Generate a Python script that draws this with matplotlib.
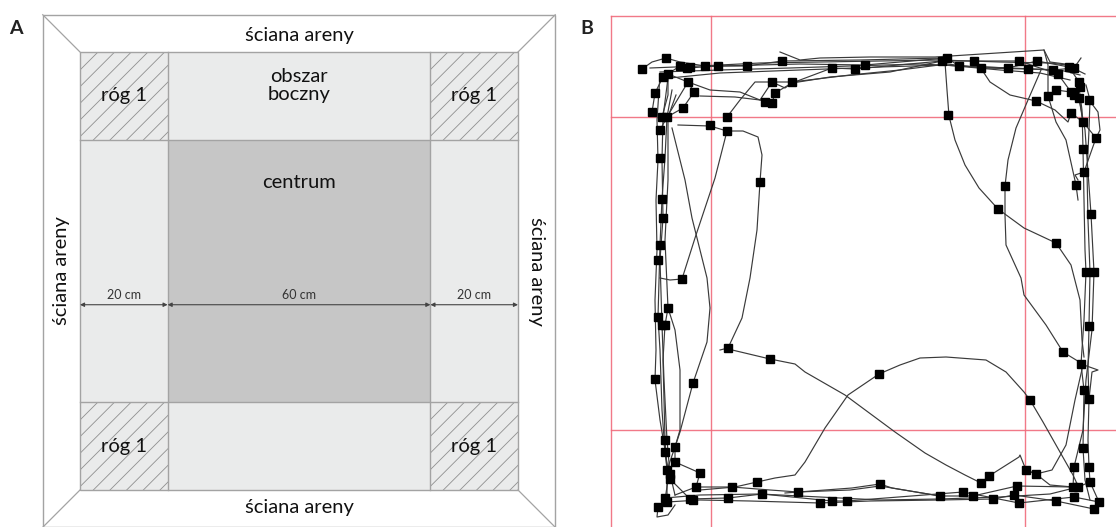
import matplotlib
matplotlib.use("Agg")
import matplotlib.pyplot as plt
from matplotlib.patches import Rectangle
import numpy as np

plt.rcParams['font.family'] = ['Lato', 'DejaVu Sans']
plt.rcParams['hatch.linewidth'] = 0.6

# ---------------- Panel A data (cm) ----------------
zone_edges = [0, 20, 80, 100]          # 20 cm | 60 cm | 20 cm
wall = 8.5
zone_widths = ["20 cm", "60 cm", "20 cm"]
wall_label = "ściana areny"
center_label = "centrum"
side_label = "obszar\nboczny"
corner_label = "róg 1"

# ---------------- Panel B data (camera pixels) ----------------
grid_x = [611, 711, 1025, 1125]
grid_y = [16, 117, 430, 531]

track_top_1 = [(650,68),(700,66),(760,63),(820,62),(880,61),(940,60),(1000,62),(1050,63),(1075,66)]
track_top_2 = [(660,72),(720,70),(790,68),(850,66),(920,64),(960,66),(1010,68),(1060,70),(1080,75)]
track_top_3 = [(670,78),(720,73),(800,70),(880,67),(945,65),(1000,70),(1040,73),(1070,80)]
track_top_4 = [(642,69),(652,62),(666,58),(680,62),(705,66),(747,66),(782,61),(860,60),(942,58),(948,59)]
track_top_5 = [(652,112),(655,93),(663,77),(680,66),(687,68),(718,66),(800,64),(865,65),(947,58),(959,66),
               (1008,68),(1037,61),(1069,67),(1079,82)]
track_top_6 = [(667,117),(688,82),(710,90),(740,92),(765,102),(772,103),(775,93),(792,83),(832,68),(855,69),
               (942,61),(974,61),(1019,61),(1058,74),(1071,92),(1079,98)]
track_top_7 = [(727,117),(740,100),(755,82),(772,82),(792,82),(850,75),(900,70),(947,64),(981,68),(1028,69),
               (1053,70),(1074,68),(1081,58)]
track_top_8 = [(662,117),(668,95),(668,74),(688,82),(694,92),(683,108),(667,117),(660,130)]
track_top_9 = [(700,96),(735,97),(760,100),(772,82),(785,88),(792,83),(830,77),(890,72),(942,61)]
track_top_10 = [(780,52),(800,60),(820,58),(870,57),(935,57),(1044,50),(1050,62),(1065,64),(1085,74)]

track_left_1 = [(660,75),(657,120),(658,160),(656,200),(657,250),(655,300),(656,350),(655,380),(660,420),
                (665,450),(668,480),(665,500)]
track_left_2 = [(668,78),(663,117),(662,160),(663,218),(660,260),(662,325),(664,380),(667,440),(670,474),(675,495)]
track_left_3 = [(672,90),(667,117),(665,158),(662,199),(660,245),(658,317),(660,350),(662,410),(665,452),
                (670,479),(690,499)]
track_left_4 = [(676,95),(668,117),(668,180),(665,240),(668,308),(665,325),(663,360),(665,440),(667,470),(667,502)]
track_left_5 = [(672,128),(685,180),(692,218),(700,250),(707,278),(710,308),(707,342),(693,383),(680,432),
                (675,447),(675,462),(700,473),(696,487)]
track_left_6 = [(727,131),(715,178),(695,238),(682,279),(670,280),(660,278)]
track_left_7 = [(668,308),(675,330),(680,370),(680,430),(675,447),(667,470)]

track_right_1 = [(1078,80),(1082,110),(1083,149),(1084,200),(1085,250),(1086,272),(1084,320),(1081,364),
                 (1084,390),(1083,448),(1085,480),(1090,500)]
track_right_2 = [(1086,85),(1090,100),(1089,130),(1087,172),(1088,220),(1090,272),(1089,326),(1088,370),
                 (1089,399),(1088,440),(1089,467),(1090,482),(1099,502)]
track_right_3 = [(1079,98),(1085,130),(1091,214),(1094,272),(1092,330),(1086,380),(1083,430),(1074,467),(1073,487)]
track_right_4 = [(1089,100),(1098,112),(1100,130),(1096,138),(1090,155),(1084,172),(1075,175),(1078,180)]
track_right_5 = [(982,70),(990,82),(1010,95),(1036,101),(1055,110),(1068,122),(1071,113),(1083,122)]
track_right_6 = [(1044,50),(1048,65),(1048,96),(1056,122),(1066,140),(1076,185),(1078,200)]
track_right_7 = [(1056,90),(1071,92),(1079,98),(1083,122),(1096,138)]
track_right_8 = [(1081,364),(1098,370),(1092,372),(1089,399)]

track_bottom_1 = [(665,498),(700,495),(760,494),(820,497),(880,500),(940,499),(1000,497),(1050,494),(1078,487),(1090,482)]
track_bottom_2 = [(667,502),(700,500),(750,501),(820,503),(870,501),(940,500),(993,499),(1014,495),(1056,501),(1094,509)]
track_bottom_3 = [(675,495),(696,487),(732,487),(770,490),(798,492),(850,490),(880,486),(940,496),(973,496),
                  (1017,486),(1073,487)]
track_bottom_4 = [(690,499),(728,498),(762,494),(832,501),(847,501),(963,492),(1019,503),(1074,497),(1099,502)]
track_bottom_5 = [(785,493),(852,488),(880,484),(892,488),(940,496)]
track_bottom_6 = [(658,507),(657,517),(668,515),(675,505)]

track_cross_1 = [(678,125),(710,126),(727,131),(743,131),(758,137),(762,155),(760,182),(757,230),(750,278),
                 (742,318),(728,348),(720,350)]
track_cross_2 = [(728,349),(770,359),(795,364),(805,372),(845,395),(895,432),(925,453),(946,465),(965,475),
                 (981,483),(989,476),(1019,457),(1020,455),(1026,470),(1036,474),(1050,485),(1073,487)]
track_cross_3 = [(700,490),(735,487),(757,482),(775,478),(795,475),(805,462),(825,428),(848,395),(879,374),
                 (900,365),(920,358),(946,357),(986,360),(1006,372),(1024,392),(1030,400),(1043,422),
                 (1056,445),(1073,475),(1079,488)]
track_cross_4 = [(945,62),(947,90),(949,116),(955,140),(965,165),(979,188),(998,209),(1024,228),(1056,243),
                 (1071,265),(1080,300),(1082,340),(1084,357)]
track_cross_5 = [(1041,70),(1028,100),(1016,128),(1008,160),(1005,186),(1005,215),(1006,245),(1021,278),
                 (1024,295),(1046,325),(1063,352),(1081,363)]
track_cross_6 = [(1083,365),(1075,400),(1066,445),(1052,470),(1036,474),(1026,470)]

tracks = [track_top_1, track_top_2, track_top_3, track_top_4, track_top_5, track_top_6, track_top_7,
          track_top_8, track_top_9, track_top_10,
          track_left_1, track_left_2, track_left_3, track_left_4, track_left_5, track_left_6, track_left_7,
          track_right_1, track_right_2, track_right_3, track_right_4, track_right_5, track_right_6,
          track_right_7, track_right_8,
          track_bottom_1, track_bottom_2, track_bottom_3, track_bottom_4, track_bottom_5, track_bottom_6,
          track_cross_1, track_cross_2, track_cross_3, track_cross_4, track_cross_5, track_cross_6]

marks = [(642,69),(666,58),(680,66),(687,68),(690,67),(705,66),(718,66),(747,66),(782,61),(668,74),(663,77),
         (688,82),(694,92),(683,108),(655,93),(652,112),(662,117),(667,117),(727,117),(710,125),(727,131),
         (772,82),(775,93),(765,102),(772,103),(792,82),(760,182),
         (832,68),(855,69),(865,65),(942,61),(947,58),(948,115),
         (959,66),(974,61),(981,68),(1008,68),(1019,61),(1028,69),(1037,61),(1053,70),(1058,74),(1069,67),
         (1074,68),(1079,82),(1080,87),(1071,92),(1074,95),(1079,98),(1089,100),(1036,101),(1048,96),
         (1056,90),(1071,113),(1083,122),(1096,138),(1083,149),(1084,172),(1076,185),(1005,186),(998,209),
         (1056,243),(1091,214),(1086,272),(1094,272),
         (660,130),(660,158),(662,199),(663,218),(660,245),(658,260),(682,279),(668,308),(658,317),(662,325),
         (665,325),(728,348),(770,359),(655,379),(693,383),(665,440),(675,447),(665,452),(675,462),(667,470),
         (670,474),(670,479),(700,473),
         (696,487),(732,487),(757,482),(762,494),(665,498),(667,502),(658,507),(690,499),(693,500),(728,498),
         (798,492),(820,503),(832,501),(847,501),(880,484),(940,496),(879,374),
         (1089,326),(1063,352),(1081,364),(1084,390),(1089,399),(1030,400),(1083,448),(1074,467),(1089,467),
         (1090,482),(1026,470),(1036,474),(989,476),(981,483),(1017,486),(1073,487),(1078,487),(963,492),
         (973,496),(993,499),(1014,495),(1019,503),(1056,501),(1074,497),(1099,502),(1094,509)]

# ---------------- Figure ----------------
W, H = 1116, 527
fig = plt.figure(figsize=(W / 100, H / 100), dpi=100)

# Panel A
s = 4.38  # px per cm
axA = fig.add_axes([0, 0, 560 / W, 1])
axA.set_xlim(-80 / s, 480 / s)
axA.set_ylim(-37 / s, 490 / s)
axA.axis('off')

edge = '#a3a3a3'
x0, x1, x2, x3 = zone_edges
# outer wall
axA.add_patch(Rectangle((-wall, -wall), 100 + 2 * wall, 100 + 2 * wall, fc='white', ec=edge, lw=1.0))
for (ox, oy), (ix, iy) in [((-wall, -wall), (0, 0)), ((100 + wall, -wall), (100, 0)),
                           ((-wall, 100 + wall), (0, 100)), ((100 + wall, 100 + wall), (100, 100))]:
    axA.plot([ox, ix], [oy, iy], color=edge, lw=0.9)
# floor zones
axA.add_patch(Rectangle((0, 0), 100, 100, fc='#eaebeb', ec='none'))
axA.add_patch(Rectangle((x1, x1), x2 - x1, x2 - x1, fc='#c6c6c6', ec='none'))
for cx in (x0, x2):
    for cy in (x0, x2):
        axA.add_patch(Rectangle((cx, cy), 20, 20, fc='#eaebeb', ec='#8f8f8f', hatch='//', lw=0))
for v in (x1, x2):
    axA.plot([v, v], [0, 100], color=edge, lw=1.0)
    axA.plot([0, 100], [v, v], color=edge, lw=1.0)
axA.add_patch(Rectangle((0, 0), 100, 100, fc='none', ec=edge, lw=1.0))

fs = 14.5
tc = '#111111'
axA.text(50, 103.8, wall_label, ha='center', va='center', fontsize=fs, color=tc)
axA.text(50, -4.0, wall_label, ha='center', va='center', fontsize=fs, color=tc)
axA.text(-4.2, 50, wall_label, ha='center', va='center', fontsize=fs, rotation=90, color=tc)
axA.text(104.2, 50, wall_label, ha='center', va='center', fontsize=fs, rotation=270, color=tc)
axA.text(50, 92.3, side_label, ha='center', va='center', fontsize=fs, linespacing=1.1, color=tc)
axA.text(50, 70.1, center_label, ha='center', va='center', fontsize=fs, color=tc)
for cx in (10, 90):
    for cy in (10, 90):
        axA.text(cx, cy, corner_label, ha='center', va='center', fontsize=fs, color=tc)

ya = 42.3
for a, b, lab in zip(zone_edges[:-1], zone_edges[1:], zone_widths):
    axA.annotate('', xy=(b, ya), xytext=(a, ya),
                 arrowprops=dict(arrowstyle='<|-|>', color='#444', lw=0.8, shrinkA=0, shrinkB=0,
                                 mutation_scale=6))
    axA.text((a + b) / 2, ya + 0.9, lab, ha='center', va='bottom', fontsize=9, color='#333')

# Panel B
axB = fig.add_axes([590 / W, 0, 526 / W, 1])
axB.set_xlim(590, 1116)
axB.set_ylim(527, 0)
axB.axis('off')
red = '#f06b7b'
for gx in grid_x:
    axB.plot([gx, gx], [grid_y[0], grid_y[-1]], color=red, lw=1.0, alpha=0.9)
for gy in grid_y:
    axB.plot([grid_x[0], grid_x[-1]], [gy, gy], color=red, lw=1.0, alpha=0.9)

for t in tracks:
    xs, ys = zip(*t)
    axB.plot(xs, ys, color='#3a3a3a', lw=0.85, solid_joinstyle='round')
mx, my = zip(*marks)
axB.plot(mx, my, 's', color='black', ms=5.5, ls='none')

fig.text(16 / W, 1 - 28 / H, 'A', fontsize=14, fontweight='bold', ha='center', va='center', color='#222')
fig.text(587 / W, 1 - 28 / H, 'B', fontsize=14, fontweight='bold', ha='center', va='center', color='#222')

fig.savefig('out.png', dpi=100)
